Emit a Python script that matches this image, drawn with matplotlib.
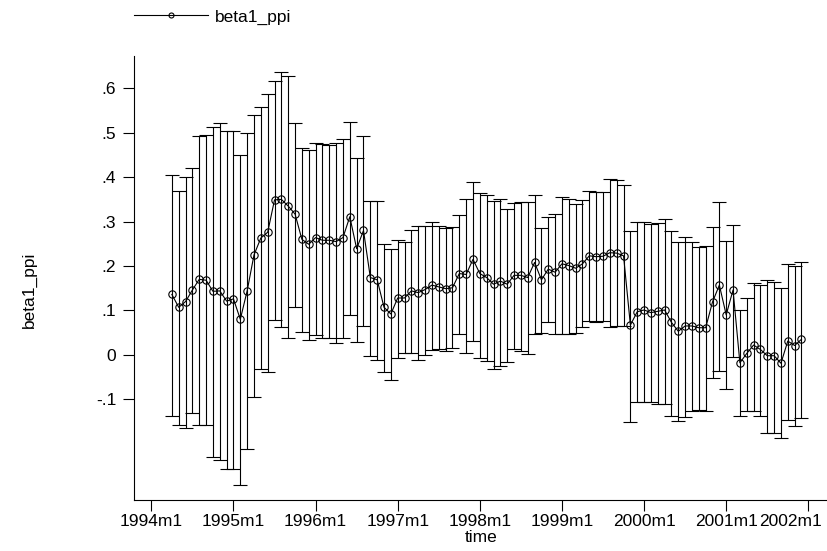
import numpy as np
import pandas as pd
import matplotlib
matplotlib.use("Agg")
import matplotlib.pyplot as plt
from matplotlib.lines import Line2D
from matplotlib.transforms import ScaledTranslation

plt.rcParams['font.family'] = ['Liberation Sans', 'DejaVu Sans']

# monthly estimates, 1994m4 .. 2001m12
start = "1994-04"
beta = [0.136, 0.107, 0.120, 0.146, 0.170, 0.168, 0.143, 0.144, 0.121, 0.126,
        0.080, 0.144, 0.225, 0.263, 0.276, 0.349, 0.350, 0.335, 0.317, 0.260,
        0.249, 0.264, 0.258, 0.258, 0.255, 0.264, 0.311, 0.239, 0.280, 0.174,
        0.169, 0.107, 0.092, 0.128, 0.128, 0.144, 0.140, 0.147, 0.157, 0.153,
        0.149, 0.151, 0.183, 0.181, 0.215, 0.183, 0.174, 0.159, 0.166, 0.159,
        0.179, 0.179, 0.174, 0.208, 0.169, 0.193, 0.186, 0.205, 0.201, 0.195,
        0.205, 0.223, 0.221, 0.222, 0.230, 0.229, 0.223, 0.067, 0.097, 0.101,
        0.095, 0.098, 0.101, 0.073, 0.053, 0.065, 0.065, 0.061, 0.061, 0.119,
        0.157, 0.090, 0.146, -0.018, 0.003, 0.022, 0.012, -0.002, -0.002, -0.019,
        0.031, 0.021, 0.035]
upper = [0.404, 0.369, 0.401, 0.420, 0.493, 0.494, 0.512, 0.523, 0.503, 0.504,
         0.449, 0.499, 0.540, 0.557, 0.587, 0.616, 0.636, 0.628, 0.523, 0.465,
         0.461, 0.476, 0.475, 0.473, 0.476, 0.486, 0.525, 0.443, 0.493, 0.347,
         0.346, 0.249, 0.238, 0.258, 0.253, 0.282, 0.289, 0.290, 0.300, 0.291,
         0.285, 0.287, 0.315, 0.351, 0.390, 0.365, 0.361, 0.347, 0.352, 0.328,
         0.343, 0.345, 0.345, 0.361, 0.286, 0.310, 0.317, 0.356, 0.352, 0.339,
         0.348, 0.369, 0.367, 0.367, 0.397, 0.393, 0.382, 0.279, 0.300, 0.298,
         0.294, 0.297, 0.307, 0.279, 0.254, 0.266, 0.254, 0.242, 0.246, 0.288,
         0.345, 0.257, 0.292, 0.101, 0.127, 0.162, 0.157, 0.168, 0.165, 0.151,
         0.204, 0.199, 0.209]
lower = [-0.138, -0.157, -0.165, -0.132, -0.158, -0.158, -0.230, -0.237, -0.258, -0.256,
         -0.294, -0.213, -0.095, -0.033, -0.038, 0.079, 0.062, 0.038, 0.108, 0.052,
         0.033, 0.044, 0.039, 0.039, 0.026, 0.037, 0.089, 0.028, 0.065, -0.003,
         -0.012, -0.038, -0.056, -0.007, 0.003, 0.003, -0.011, -0.001, 0.011, 0.013,
         0.008, 0.016, 0.046, 0.005, 0.032, -0.007, -0.014, -0.031, -0.026, -0.017,
         0.012, 0.008, 0.002, 0.047, 0.050, 0.074, 0.047, 0.048, 0.048, 0.050,
         0.062, 0.077, 0.075, 0.077, 0.063, 0.065, 0.064, -0.151, -0.107, -0.107,
         -0.107, -0.111, -0.110, -0.138, -0.150, -0.141, -0.126, -0.124, -0.126, -0.053,
         -0.036, -0.078, -0.004, -0.138, -0.127, -0.127, -0.137, -0.176, -0.176, -0.187,
         -0.146, -0.161, -0.143]

yticks = [-0.1, 0, 0.1, 0.2, 0.3, 0.4, 0.5, 0.6]
ytick_labels = ["-.1", "0", ".1", ".2", ".3", ".4", ".5", ".6"]
tick_years = list(range(1994, 2003))

months = pd.period_range(start, periods=len(beta), freq="M")
base = pd.Period("1994-01", freq="M")
x = np.array([(m - base).n for m in months])
b = np.array(beta)
hi = np.array(upper)
lo = np.array(lower)

fs = 12.5
fig = plt.figure(figsize=(8.28, 5.51), dpi=100)
ax = fig.add_axes([0.1622, 0.0917, 0.838, 0.8067])

ax.errorbar(x, b, yerr=[b - lo, hi - b], fmt='none', ecolor='black',
            elinewidth=0.8, capsize=4.8, capthick=0.8)
ax.plot(x, b, '-o', color='black', lw=0.8, ms=5.3, mfc='none', mec='black', mew=0.8)

ax.set_xlim(-2.49, 98.9)
ax.set_ylim(-0.328, 0.673)

xt = [(pd.Period(f"{y}-01", freq="M") - base).n for y in tick_years]
ax.set_xticks(xt)
ax.set_xticklabels([f"{y}m1" for y in tick_years])
ax.set_yticks(yticks)
ax.set_yticklabels(ytick_labels)

for s in ['top', 'right']:
    ax.spines[s].set_visible(False)
for s in ['left', 'bottom']:
    ax.spines[s].set_linewidth(0.8)
ax.tick_params(axis='both', length=8, width=0.8, labelsize=fs)
ax.tick_params(axis='x', pad=2)
ax.tick_params(axis='y', pad=5)

# the last label is pushed left so it stays inside the picture
last = ax.xaxis.get_major_ticks()[-1].label1
last.set_transform(last.get_transform() + ScaledTranslation(-0.18, 0, fig.dpi_scale_trans))

fig.text(0.5815, 1 - 538 / 551, "time", ha='center', va='center', fontsize=fs)
fig.text(0.036, 1 - 290 / 551, "beta1_ppi", ha='center', va='center',
         rotation=90, fontsize=fs)

handle = Line2D([], [], color='black', lw=0.8, marker='o', ms=3.6,
                mfc='none', mec='black', mew=0.8)
ax.legend([handle], ["beta1_ppi"], loc='center left',
          bbox_to_anchor=(134 / 828, 1 - 17 / 551), bbox_transform=fig.transFigure,
          frameon=False, fontsize=fs, handlelength=4.25, handletextpad=0.4,
          borderpad=0, borderaxespad=0)

fig.savefig("out.png", dpi=100)
